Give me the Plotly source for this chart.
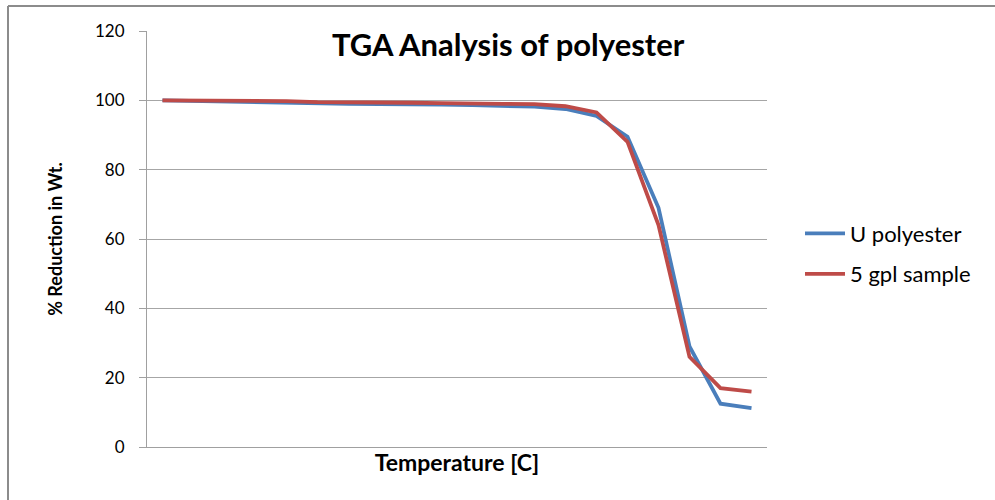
import plotly.graph_objects as go

# 20 temperature steps (axis labels are hidden in the original chart)
categories = [f"T{i}" for i in range(1, 21)]
u_polyester = [100, 99.8, 99.6, 99.4, 99.2, 99.0, 99.0, 98.9, 98.9, 98.8,
               98.6, 98.5, 98.2, 97.5, 95.5, 89.5, 69.0, 29.0, 12.5, 11.2]
gpl5_sample = [100, 100, 100, 100, 99.8, 99.5, 99.5, 99.4, 99.3, 99.2,
               99.0, 99.0, 98.9, 98.3, 96.5, 88.0, 64.0, 26.0, 17.0, 16.0]
y_ticks = [0, 20, 40, 60, 80, 100, 120]

FONT = "Lato, 'Open Sans', sans-serif"

fig = go.Figure()
fig.add_trace(go.Scatter(x=categories, y=u_polyester, mode="lines", name="U polyester",
                         legendgroup="a",
                         line=dict(color="#4A7EBB", width=3.8)))
fig.add_trace(go.Scatter(x=categories, y=gpl5_sample, mode="lines", name="5 gpl sample",
                         legendgroup="b",
                         line=dict(color="#BE4B48", width=3.8)))

L, R, T, B = 147, 228, 31, 53
W, H = 995, 500
pw, ph = W - L - R, H - T - B

def px(x):
    return (x - L) / pw

def py(y):
    return (H - B - y) / ph

fig.update_layout(
    width=W, height=H,
    margin=dict(l=L, r=R, t=T, b=B),
    paper_bgcolor="white", plot_bgcolor="white",
    font=dict(family=FONT, color="#000000", size=16),
    showlegend=True,
    legend=dict(x=px(800), y=py(254), xanchor="left", yanchor="middle",
                xref="paper", yref="paper", traceorder="grouped", tracegroupgap=9,
                font=dict(size=22, color="#000000"), bgcolor="rgba(0,0,0,0)",
                itemwidth=40),
    xaxis=dict(type="category", range=[-0.5, 19.5], showticklabels=False,
               showgrid=False, zeroline=False, showline=True, linecolor="#A0A0A0",
               linewidth=1, ticks="",
               title=dict(text="<b>Temperature [C]</b>", font=dict(size=23), standoff=7)),
    yaxis=dict(range=[0, 120], tickvals=y_ticks, showgrid=True, gridcolor="#A6A6A6",
               gridwidth=1, zeroline=False, showline=True, linecolor="#A0A0A0",
               linewidth=1, ticks="outside", ticklen=7, tickcolor="#A0A0A0",
               tickfont=dict(size=17), ticklabelstandoff=11,
               title=dict(text="<b>% Reduction in Wt.</b>", font=dict(size=18), standoff=27)),
    annotations=[dict(text="<b>TGA Analysis of polyester</b>", x=px(508), y=py(44),
                      xref="paper", yref="paper", showarrow=False,
                      xanchor="center", yanchor="middle", font=dict(size=31))],
    shapes=[
        dict(type="line", xref="paper", yref="paper", x0=px(8), x1=px(1000),
             y0=py(6), y1=py(6), line=dict(color="#8C8C8C", width=2)),
        dict(type="line", xref="paper", yref="paper", x0=px(8), x1=px(8),
             y0=py(6), y1=py(505), line=dict(color="#8C8C8C", width=2)),
    ],
)

fig.write_html("out.html", config={"displayModeBar": False},
               post_script="document.body.style.margin='0';")
